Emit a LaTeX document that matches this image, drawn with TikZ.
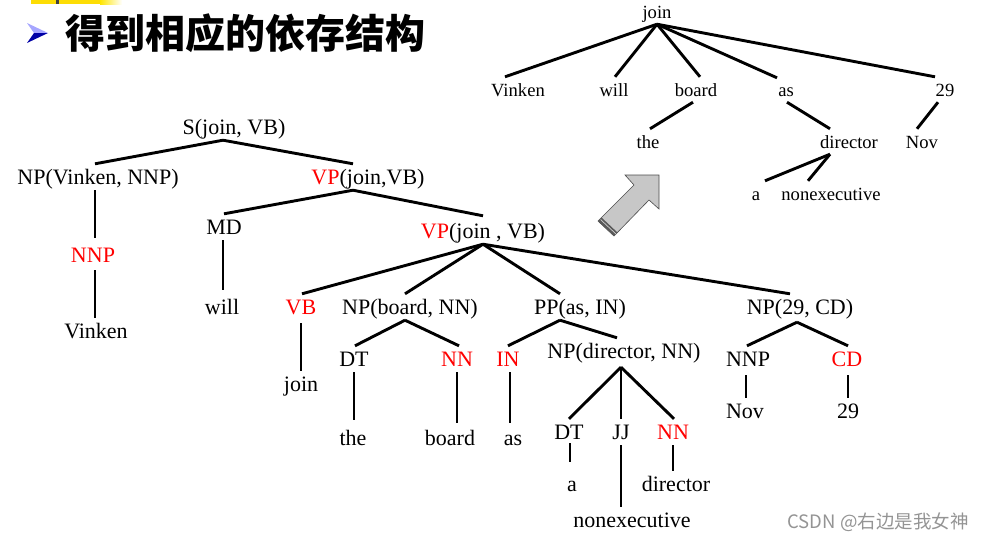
\documentclass[tikz,border=0pt]{standalone}
\usepackage{fontspec}
\setmainfont{Liberation Serif}
\newfontfamily\cjkfont{Noto Sans CJK SC}
\begin{document}
\begin{tikzpicture}[x=1pt,y=-1pt,
  lbl/.style={anchor=base, inner xsep=0pt, inner ysep=5pt, text height=15pt, text depth=1pt,
              font=\fontsize{22}{24}\selectfont},
  sm/.style={anchor=base, inner xsep=0pt, inner ysep=5pt, text height=14pt, text depth=1pt,
             font=\fontsize{18.6}{20}\selectfont},
  hl/.style={text=red},
  br/.style={line width=2.9pt}]
\useasboundingbox (0,0) rectangle (988,542);

% header strip and bullet
\fill[yellow!80!orange] (31,0) rectangle (100,4);
\shade[left color=yellow!80!orange, right color=white] (100,0) rectangle (122,4);
\fill[black!75] (56,0) rectangle (59,4);
\fill[blue!35!white] (27,23) -- (48,33) -- (34,33) -- cycle;
\fill[blue!65!black] (34,33) -- (48,33) -- (27,43) -- cycle;
\node[font=\cjkfont\bfseries\fontsize{40}{44}\selectfont] (title) at (245,33) {得到相应的依存结构};

% constituency tree with head words
\node[lbl] (S) at (234,134) {S(join, VB)};
\node[lbl] (NPv) at (98,184) {NP(Vinken, NNP)};
\node[lbl] (VP1) at (368,184) {\textcolor{red}{VP}(join,VB)};
\node[lbl,hl] (NNPa) at (93,262) {NNP};
\node[lbl] (Vinken) at (96,338) {Vinken};
\node[lbl] (MD) at (224,234) {MD};
\node[lbl] (VP2) at (483,238) {\textcolor{red}{VP}(join , VB)};
\node[lbl] (will) at (222,314) {will};
\node[lbl,hl] (VB) at (301,314) {VB};
\node[lbl] (NPb) at (410,314) {NP(board, NN)};
\node[lbl] (PP) at (580,314) {PP(as, IN)};
\node[lbl] (NP29) at (800,314) {NP(29, CD)};
\node[lbl] (DTb) at (354,366) {DT};
\node[lbl,hl] (NNb) at (457,366) {NN};
\node[lbl,hl] (IN) at (508,366) {IN};
\node[lbl] (NPd) at (624,358) {NP(director, NN)};
\node[lbl] (DTa) at (569,439) {DT};
\node[lbl] (JJ) at (621,439) {JJ};
\node[lbl,hl] (NNd) at (673,439) {NN};
\node[lbl] (the) at (353,445) {the};
\node[lbl] (board) at (450,445) {board};
\node[lbl] (as) at (513,445) {as};
\node[lbl] (join) at (301,391) {join};
\node[lbl] (NNPb) at (748,366) {NNP};
\node[lbl,hl] (CD) at (847,366) {CD};
\node[lbl] (Nov) at (745,418) {Nov};
\node[lbl] (n29) at (848,418) {29};
\node[lbl] (a) at (572,491) {a};
\node[lbl] (director) at (676,491) {director};
\node[lbl] (nonexec) at (632,527) {nonexecutive};

\draw[br] ([xshift=-11pt]S.south) -- ([xshift=-3pt]NPv.north);
\draw[br] ([xshift=-11pt]S.south) -- ([xshift=-15pt]VP1.north);
\draw[br] ([xshift=-3pt]NPv.south) -- ([xshift=2pt,yshift=4pt]NNPa.north);
\draw[br] ([xshift=2pt,yshift=-2pt]NNPa.south) -- ([xshift=-1pt]Vinken.north);
\draw[br] ([xshift=-15pt]VP1.south) -- (MD.north);
\draw[br] ([xshift=-15pt]VP1.south) -- ([yshift=2pt]VP2.north);
\draw[br] ([xshift=-1pt]MD.south) -- ([xshift=1pt,yshift=4pt]will.north);
\draw[br] (VP2.south) -- ([xshift=1pt]VB.north);
\draw[br] (VP2.south) -- ([xshift=-5pt]NPb.north);
\draw[br] (VP2.south) -- ([xshift=-20pt]PP.north);
\draw[br] (VP2.south) -- ([xshift=-10pt]NP29.north);
\draw[br] ([yshift=-3pt]VB.south) -- (join.north);
\draw[br] ([xshift=-5pt]NPb.south) -- ([xshift=1pt]DTb.north);
\draw[br] ([xshift=-5pt]NPb.south) -- ([xshift=2pt]NNb.north);
\draw[br] ([xshift=-20pt]PP.south) -- (IN.north);
\draw[br] ([xshift=-20pt]PP.south) -- ([xshift=-7pt]NPd.north);
\draw[br] ([xshift=-3pt,yshift=-2pt]NP29.south) -- ([xshift=-1pt]NNPb.north);
\draw[br] ([xshift=-3pt,yshift=-2pt]NP29.south) -- ([xshift=1pt]CD.north);
\draw[br] (DTb.south) -- ([xshift=1pt,yshift=5pt]the.north);
\draw[br] (NNb.south) -- ([xshift=7pt,yshift=2pt]board.north);
\draw[br] ([xshift=2pt]IN.south) -- ([xshift=-3pt,yshift=2pt]as.north);
\draw[br] ([xshift=-3pt,yshift=-3pt]NPd.south) -- (DTa.north);
\draw[br] ([xshift=-3pt,yshift=-3pt]NPd.south) -- (JJ.north);
\draw[br] ([xshift=-3pt,yshift=-3pt]NPd.south) -- ([xshift=1pt]NNd.north);
\draw[br] ([xshift=1pt,yshift=2pt]DTa.south) -- ([xshift=-2pt,yshift=9pt]a.north);
\draw[br] (JJ.south) -- ([xshift=-11pt]nonexec.north);
\draw[br] (NNd.south) -- ([xshift=-3pt]director.north);
\draw[br] ([xshift=-2pt,yshift=-3pt]NNPb.south) -- ([xshift=1pt]Nov.north);
\draw[br] ([xshift=1pt,yshift=-3pt]CD.south) -- (n29.north);

% block arrow
\filldraw[fill=black!22, draw=black!70, line width=0.6pt]
  (659,175) -- (625,175) -- (634,185) -- (598,221) -- (614,236) -- (649,200) -- (659,209) -- cycle;
\fill[black!65] (598,221) -- (614,236) -- (617.5,232.5) -- (601.5,217.5) -- cycle;
\draw[white!80!black, line width=0.7pt] (600.5,219.5) -- (616,234);

% dependency tree
\node[sm] (tjoin) at (657,18) {join};
\node[sm] (tVinken) at (518,96) {Vinken};
\node[sm] (twill) at (614,96) {will};
\node[sm] (tboard) at (696,96) {board};
\node[sm] (tas) at (786,96) {as};
\node[sm] (t29) at (945,96) {29};
\node[sm] (tthe) at (648,148) {the};
\node[sm] (tdirector) at (849,148) {director};
\node[sm] (tNov) at (922,148) {Nov};
\node[sm] (ta) at (756,200) {a};
\node[sm] (tnonexec) at (831,200) {nonexecutive};

\draw[br] (tjoin.south) -- ([xshift=-13pt]tVinken.north);
\draw[br] (tjoin.south) -- ([xshift=1pt]twill.north);
\draw[br] (tjoin.south) -- ([xshift=4pt]tboard.north);
\draw[br] (tjoin.south) -- ([xshift=-9pt,yshift=-1pt]tas.north);
\draw[br] (tjoin.south) -- ([xshift=-10pt]t29.north);
\draw[br] ([xshift=-3pt]tboard.south) -- ([xshift=2pt]tthe.north);
\draw[br] ([xshift=1pt]tas.south) -- ([xshift=-19pt]tdirector.north);
\draw[br] ([xshift=-7pt]t29.south) -- ([xshift=-5pt]tNov.north);
\draw[br] ([xshift=-19pt]tdirector.south) -- ([xshift=9pt]ta.north);
\draw[br] ([xshift=-19pt]tdirector.south) -- ([xshift=-23pt]tnonexec.north);

\node[font=\cjkfont\fontsize{18.5}{20}\selectfont, text=black!42] (mark) at (878,522) {CSDN @右边是我女神};
\end{tikzpicture}
\end{document}
